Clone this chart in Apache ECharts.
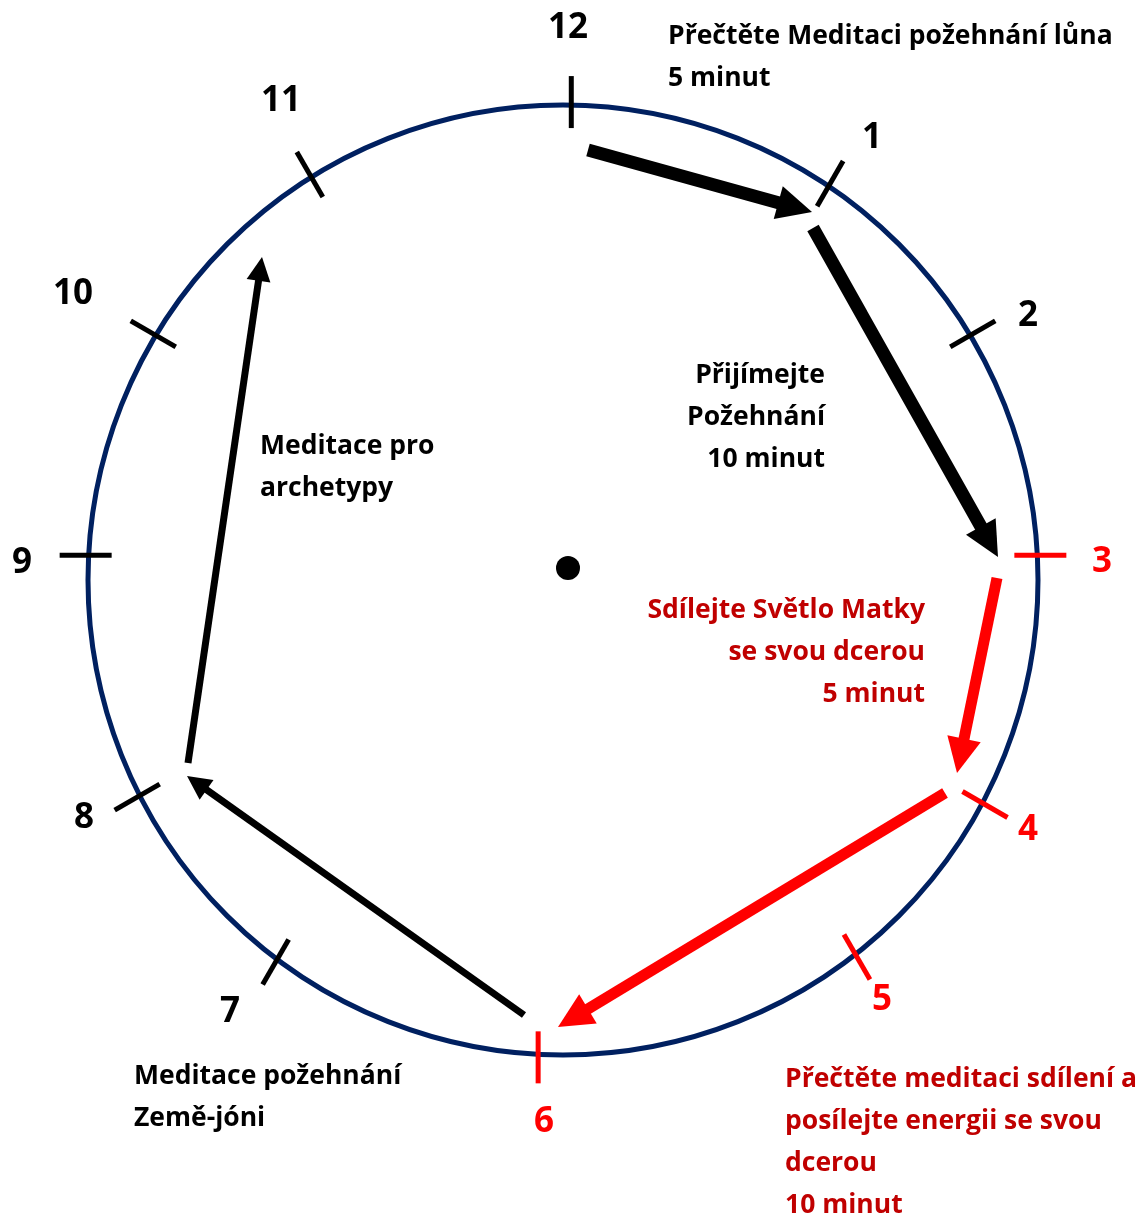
<!DOCTYPE html>
<html>
<head>
<meta charset="utf-8">
<title>Hodiny meditace</title>
<script src="https://cdn.jsdelivr.net/npm/echarts@6/dist/echarts.min.js"></script>
<style>
html, body { margin: 0; padding: 0; background: #fff; }
#chart { width: 1142px; height: 1216px; }
</style>
</head>
<body>
<div id="chart"></div>
<script>
// ciferník: popisky hodin, poloha značek na kruhu (stupně, 0 = vpravo, proti směru hodin)
var hours = ['12', '1', '2', '3', '4', '5', '6', '7', '8', '9', '10', '11'];
var tickAngles = [89, 56, 31, 3, -28, -52, -93, -127, -153, 177, 149, 122];
var hourLabelPos = [[568, 28], [872, 138], [1028, 316], [1102, 562], [1028, 830], [882, 1000],
                    [544, 1122], [230, 1012], [84, 818], [22, 563], [73, 294], [281, 101]];
var redHours = ['3', '4', '5', '6'];

var clockCenter = [563, 580];
var clockRadius = 475;
var centerDot = [[568, 568]];

// šipky: [x1, y1, x2, y2] - druhý bod je hrot
var boldArrows = [[588, 150, 812, 212], [813, 228, 998, 557]];
var redArrows = [[997, 578, 957, 773], [945, 793, 558, 1027]];
var thinArrows = [[524, 1015, 187, 776], [188, 763, 262, 257]];

// poznámky, poloha = střed prvního řádku
var noteTexts = [
    'Přečtěte Meditaci požehnání lůna\n5 minut',
    'Přijímejte\nPožehnání\n10 minut',
    'Meditace pro\narchetypy',
    'Sdílejte Světlo Matky\nse svou dcerou\n5 minut',
    'Meditace požehnání\nZemě-jóni',
    'Přečtěte meditaci sdílení a\nposílejte energii se svou\ndcerou\n10 minut'
];
var notePos = [[668, 36], [825, 375], [260, 446], [925, 610], [134, 1076], [785, 1079]];

var noteAlign = ['left', 'right', 'left', 'right', 'left', 'left'];
var noteColor = ['#000', '#000', '#000', '#c00000', '#000', '#c00000'];
var FONT = '"Open Sans", Lato, sans-serif';

var myChart = echarts.init(document.getElementById('chart'));

function ringItem(params, api) {
    var c = api.coord([api.value(0), api.value(1)]);
    var r = api.size([api.value(2), 0])[0];
    return {
        type: 'circle',
        shape: { cx: c[0], cy: c[1], r: r },
        style: { fill: 'none', stroke: '#002060', lineWidth: 5 }
    };
}

// značka sedí na kruhu v úhlu tickAngles, ale míří jako ručička na danou hodinu
function tickItem(params, api) {
    var c = api.coord(clockCenter);
    var r = api.size([clockRadius, 0])[0];
    var a = api.value(2) * Math.PI / 180;
    var mx = c[0] + r * Math.cos(a), my = c[1] - r * Math.sin(a);
    var d = (90 - 30 * params.dataIndex) * Math.PI / 180;
    var cos = Math.cos(d), sin = -Math.sin(d);
    var red = redHours.indexOf(hours[params.dataIndex]) >= 0;
    return {
        type: 'line',
        shape: { x1: mx - 23 * cos, y1: my - 23 * sin, x2: mx + 29 * cos, y2: my + 29 * sin },
        style: { stroke: red ? '#ff0000' : '#000', lineWidth: 5 }
    };
}

function arrowRenderer(color, width, headLen, headWidth) {
    return function (params, api) {
        var p1 = api.coord([api.value(0), api.value(1)]);
        var p2 = api.coord([api.value(2), api.value(3)]);
        var dx = p2[0] - p1[0], dy = p2[1] - p1[1];
        var len = Math.sqrt(dx * dx + dy * dy);
        var ux = dx / len, uy = dy / len;
        var nx = -uy, ny = ux;
        var bx = p2[0] - ux * headLen, by = p2[1] - uy * headLen;
        return {
            type: 'group',
            children: [{
                type: 'line',
                shape: { x1: p1[0], y1: p1[1], x2: bx + ux * 2, y2: by + uy * 2 },
                style: { stroke: color, lineWidth: width }
            }, {
                type: 'polygon',
                shape: { points: [[p2[0], p2[1]],
                    [bx + nx * headWidth / 2, by + ny * headWidth / 2],
                    [bx - nx * headWidth / 2, by - ny * headWidth / 2]] },
                style: { fill: color }
            }]
        };
    };
}

function hourLabelItem(params, api) {
    var p = api.coord([api.value(0), api.value(1)]);
    var red = redHours.indexOf(hours[params.dataIndex]) >= 0;
    return {
        type: 'text',
        x: p[0], y: p[1],
        style: {
            text: hours[params.dataIndex],
            fill: red ? '#ff0000' : '#000',
            font: 'bold 35px ' + FONT,
            align: 'center', verticalAlign: 'middle'
        }
    };
}

function noteItem(params, api) {
    var i = params.dataIndex;
    var p = api.coord([api.value(0), api.value(1)]);
    return {
        type: 'text',
        x: p[0], y: p[1] - 21,
        style: {
            text: noteTexts[i],
            fill: noteColor[i],
            font: 'bold 26.5px ' + FONT,
            align: noteAlign[i], verticalAlign: 'top',
            lineHeight: 42
        }
    };
}

var option = {
    backgroundColor: '#fff',
    animation: false,
    grid: { left: 0, right: 0, top: 0, bottom: 0 },
    xAxis: { type: 'value', min: 0, max: 1142, show: false },
    yAxis: { type: 'value', min: 0, max: 1216, inverse: true, show: false },
    series: [{
        type: 'custom', name: 'ciferník', silent: true,
        renderItem: ringItem,
        data: [[clockCenter[0], clockCenter[1], clockRadius]]
    }, {
        type: 'custom', name: 'značky', silent: true,
        renderItem: tickItem,
        data: tickAngles.map(function (a) { return [clockCenter[0], clockCenter[1], a]; })
    }, {
        type: 'custom', name: 'hodiny', silent: true,
        renderItem: hourLabelItem,
        data: hourLabelPos
    }, {
        type: 'scatter', name: 'střed', silent: true,
        symbolSize: 24,
        itemStyle: { color: '#000', opacity: 1 },
        data: centerDot
    }, {
        type: 'custom', name: 'šipky', silent: true,
        renderItem: arrowRenderer('#000', 13, 35, 34),
        data: boldArrows
    }, {
        type: 'custom', name: 'červené šipky', silent: true,
        renderItem: arrowRenderer('#ff0000', 11, 35, 34),
        data: redArrows
    }, {
        type: 'custom', name: 'tenké šipky', silent: true,
        renderItem: arrowRenderer('#000', 7, 24, 24),
        data: thinArrows
    }, {
        type: 'custom', name: 'poznámky', silent: true,
        renderItem: noteItem,
        data: notePos
    }]
};
myChart.setOption(option);
</script>
</body>
</html>
